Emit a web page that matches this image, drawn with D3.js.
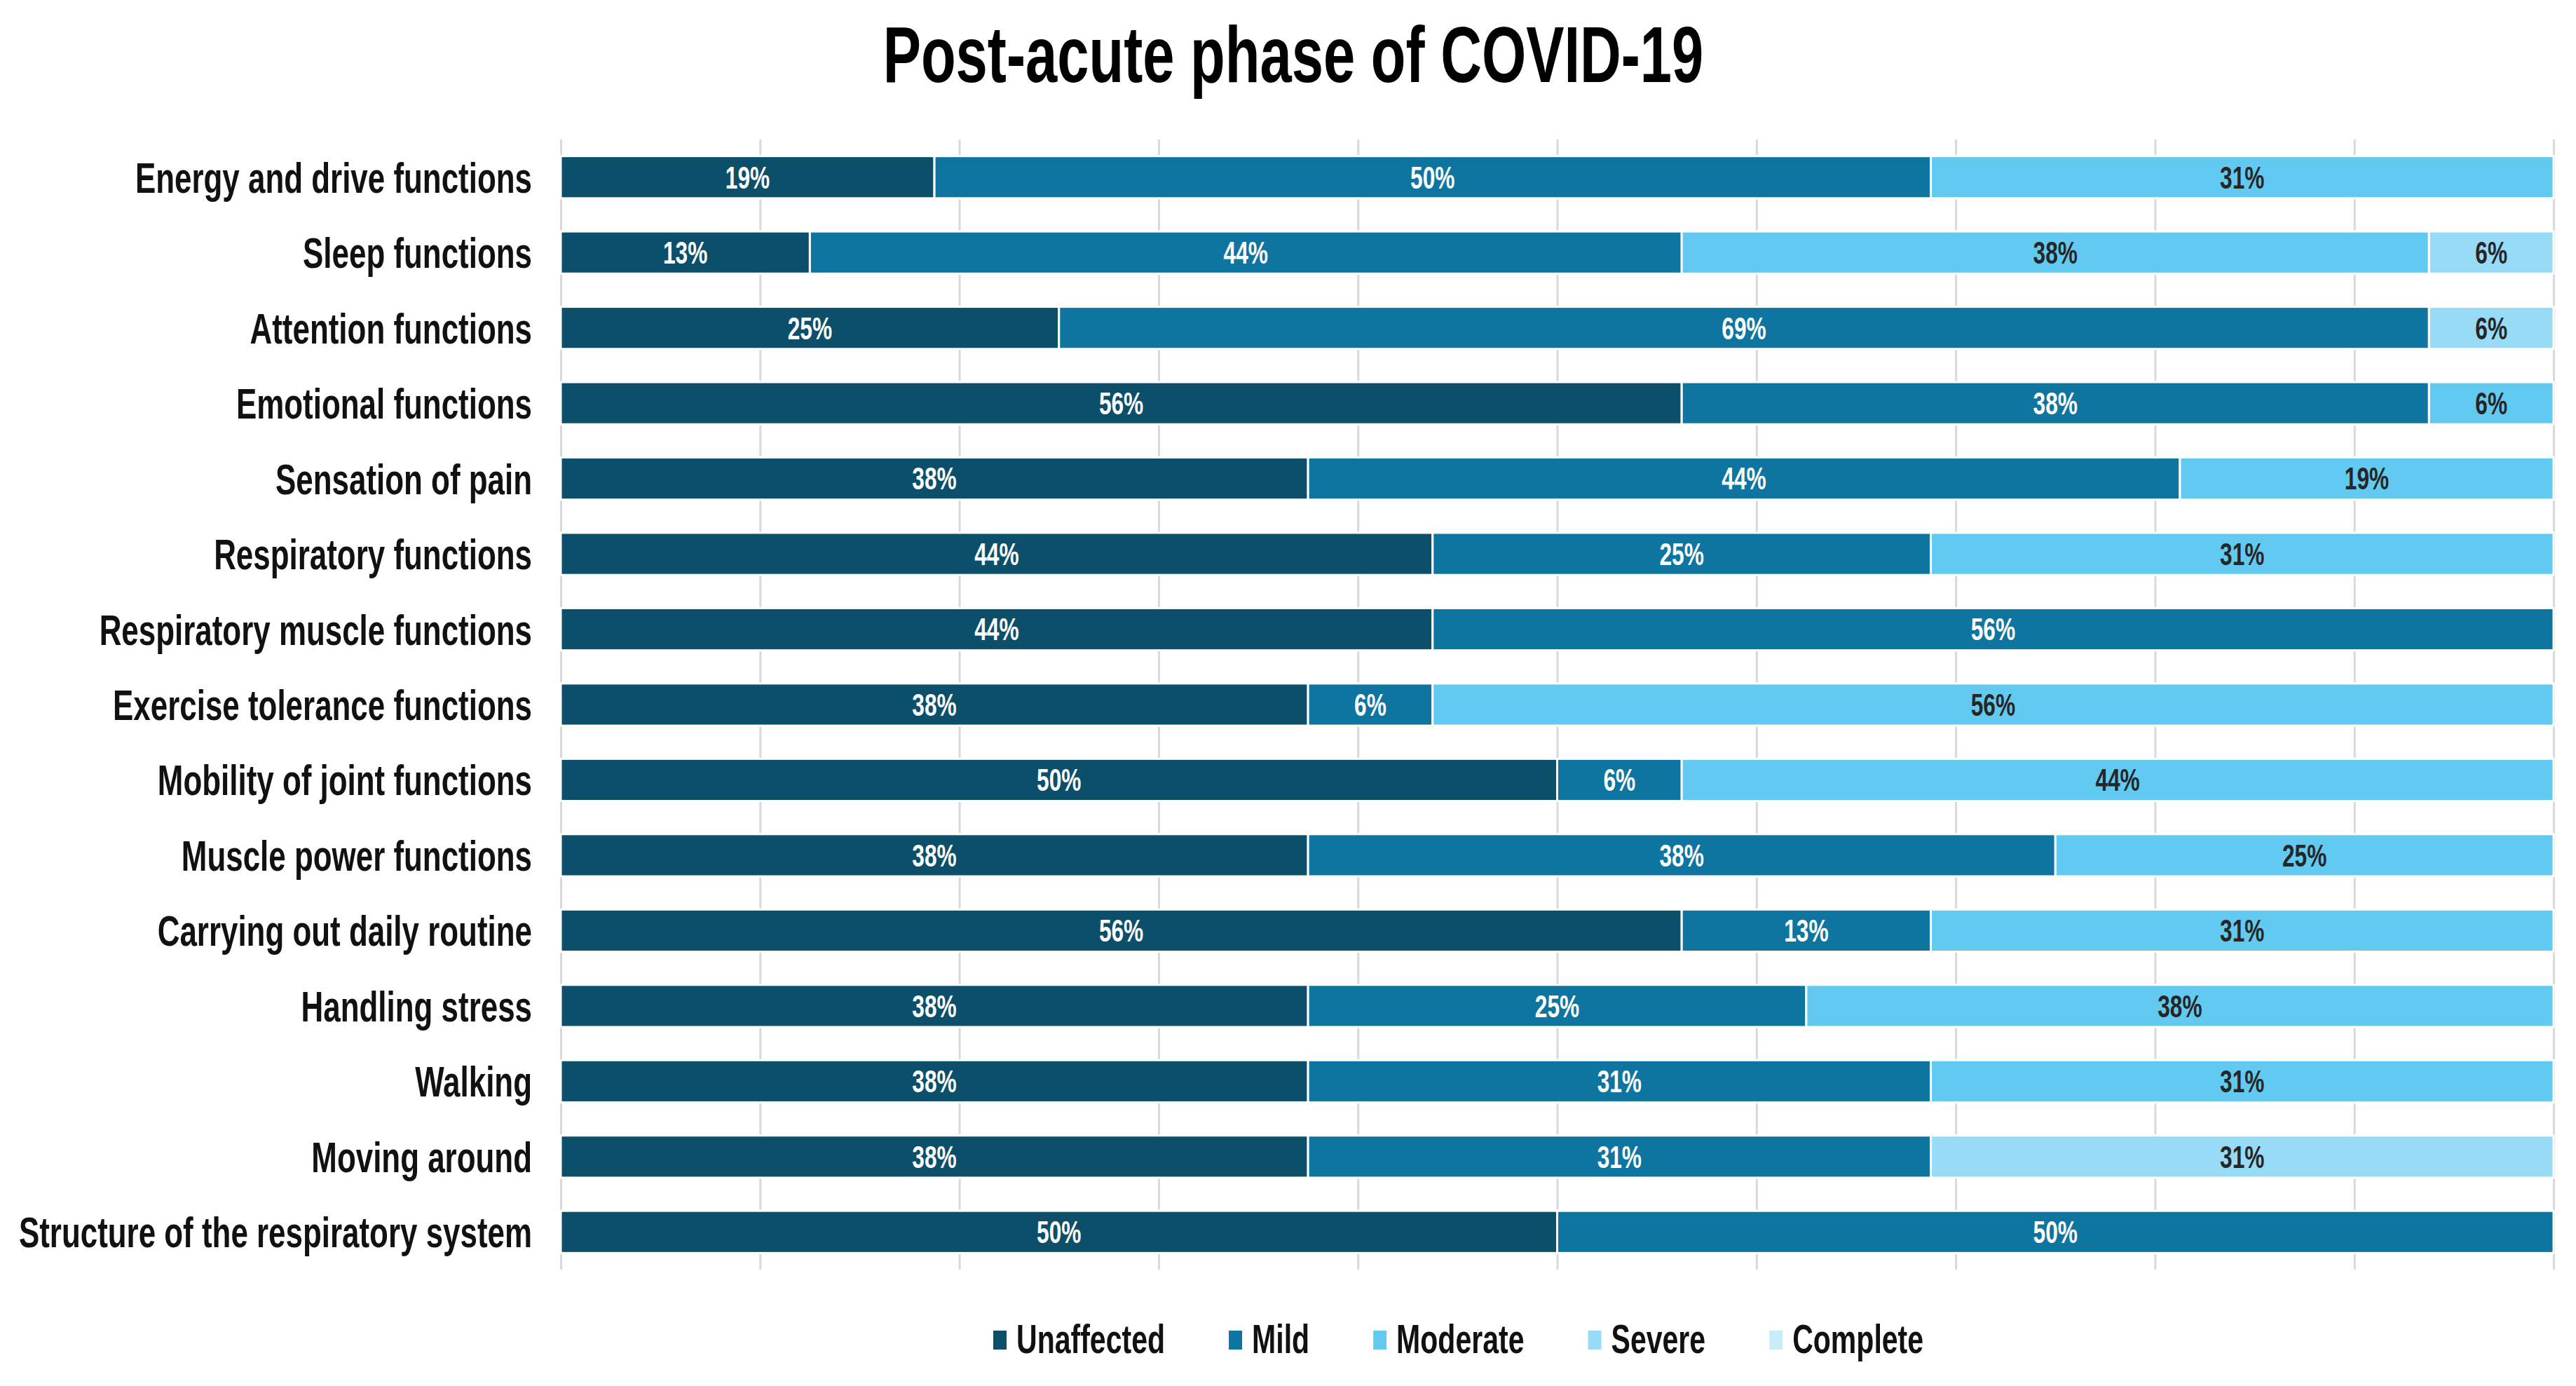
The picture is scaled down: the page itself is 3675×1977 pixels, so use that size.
<!DOCTYPE html>
<html>
<head>
<meta charset="utf-8">
<script src="https://cdn.jsdelivr.net/npm/d3@7"></script>
<style>
  body { margin: 0; background: #fff; }
  svg text { font-family: "Liberation Sans", Arial, sans-serif; font-weight: bold; }
</style>
</head>
<body>
<svg id="chart"></svg>
<script>
// Data (percent of patients)
const categories = [
  "Energy and drive functions",
  "Sleep functions",
  "Attention functions",
  "Emotional functions",
  "Sensation of pain",
  "Respiratory functions",
  "Respiratory muscle functions",
  "Exercise tolerance functions",
  "Mobility of joint functions",
  "Muscle power functions",
  "Carrying out daily routine",
  "Handling stress",
  "Walking",
  "Moving around",
  "Structure of the respiratory system"
];
const seriesNames = ["Unaffected", "Mild", "Moderate", "Severe", "Complete"];
const unaffected = [18.75, 12.5, 25, 56.25, 37.5, 43.75, 43.75, 37.5, 50, 37.5, 56.25, 37.5, 37.5, 37.5, 50];
const mild       = [50, 43.75, 68.75, 37.5, 43.75, 25, 56.25, 6.25, 6.25, 37.5, 12.5, 25, 31.25, 31.25, 50];
const moderate   = [31.25, 37.5, 0, 6.25, 18.75, 31.25, 0, 56.25, 43.75, 25, 31.25, 37.5, 31.25, 0, 0];
const severe     = [0, 6.25, 6.25, 0, 0, 0, 0, 0, 0, 0, 0, 0, 0, 31.25, 0];
const complete   = [0, 0, 0, 0, 0, 0, 0, 0, 0, 0, 0, 0, 0, 0, 0];
const gridTicks  = [0, 10, 20, 30, 40, 50, 60, 70, 80, 90, 100];
const titleText  = "Post-acute phase of COVID-19";

const colors    = ["#0b4f6a", "#0e75a0", "#62caf1", "#97dbf7", "#c9ecfb"];
const labelInk  = ["#ffffff", "#ffffff", "#262626", "#262626", "#262626"];

// the source picture is squeezed horizontally, so is its text
const SQUASH = 0.72;

const width = 3675, height = 1977;
const margin = { top: 199, right: 32, bottom: 166, left: 800 };

const svg = d3.select("#chart")
    .attr("width", width)
    .attr("height", height);

svg.append("rect")
    .attr("width", width)
    .attr("height", height)
    .attr("fill", "#fff");

// table for the stack layout
const table = categories.map((c, i) => ({
  category: c,
  Unaffected: unaffected[i],
  Mild: mild[i],
  Moderate: moderate[i],
  Severe: severe[i],
  Complete: complete[i]
}));
const stacked = d3.stack().keys(seriesNames)(table);

const x = d3.scaleLinear()
    .domain([0, 100])
    .range([margin.left, width - margin.right]);
const y = d3.scaleBand()
    .domain(categories)
    .range([margin.top, height - margin.bottom])
    .paddingInner(0.44)
    .paddingOuter(0.22);

// vertical gridlines
const grid = svg.append("g")
    .attr("transform", `translate(0,${margin.top})`)
    .call(d3.axisBottom(x)
        .tickValues(gridTicks)
        .tickSize(height - margin.bottom - margin.top)
        .tickFormat(""));
grid.select(".domain").remove();
grid.selectAll(".tick line")
    .attr("stroke", "#d9d9d9")
    .attr("stroke-width", 3);

// bars
const layer = svg.append("g")
    .selectAll("g")
    .data(stacked)
    .join("g")
    .attr("fill", (d, i) => colors[i]);

layer.selectAll("rect")
    .data(d => d.filter(s => s[1] - s[0] > 0))
    .join("rect")
    .attr("x", d => x(d[0]))
    .attr("y", d => y(d.data.category))
    .attr("width", d => x(d[1]) - x(d[0]))
    .attr("height", y.bandwidth())
    .attr("stroke", "#fff")
    .attr("stroke-width", 3);

// segment labels
layer.each(function(series, si) {
  d3.select(this).selectAll("text")
      .data(series.filter(s => s[1] - s[0] > 0))
      .join("text")
      .attr("transform", d =>
          `translate(${(x(d[0]) + x(d[1])) / 2},${y(d.data.category) + y.bandwidth() / 2}) scale(${SQUASH},1)`)
      .attr("text-anchor", "middle")
      .attr("dy", "0.36em")
      .attr("font-size", 44)
      .attr("fill", labelInk[si])
      .text(d => Math.round(d[1] - d[0]) + "%");
});

// category labels
const yAxis = svg.append("g")
    .attr("transform", `translate(${margin.left},0)`)
    .call(d3.axisLeft(y).tickSize(0));
yAxis.select(".domain").remove();
yAxis.selectAll(".tick text")
    .attr("x", null)
    .attr("dy", "0.36em")
    .attr("transform", `translate(-41,0) scale(${SQUASH},1)`)
    .attr("font-size", 61)
    .attr("fill", "#111");

// title
svg.append("text")
    .attr("transform", `translate(1845,117) scale(${SQUASH},1)`)
    .attr("text-anchor", "middle")
    .attr("font-size", 113)
    .attr("fill", "#000")
    .text(titleText);

// legend
const legend = svg.append("g").attr("transform", "translate(1417,1930)");
let lx = 0;
seriesNames.forEach((name, i) => {
  const item = legend.append("g").attr("transform", `translate(${lx},0)`);
  item.append("rect")
      .attr("x", 0)
      .attr("y", -32)
      .attr("width", 19)
      .attr("height", 27)
      .attr("fill", colors[i]);
  const t = item.append("text")
      .attr("transform", `translate(33,0) scale(${SQUASH},1)`)
      .attr("font-size", 57)
      .attr("fill", "#111")
      .text(name);
  lx += 33 + t.node().getComputedTextLength() * SQUASH + 91;
});
</script>
</body>
</html>
